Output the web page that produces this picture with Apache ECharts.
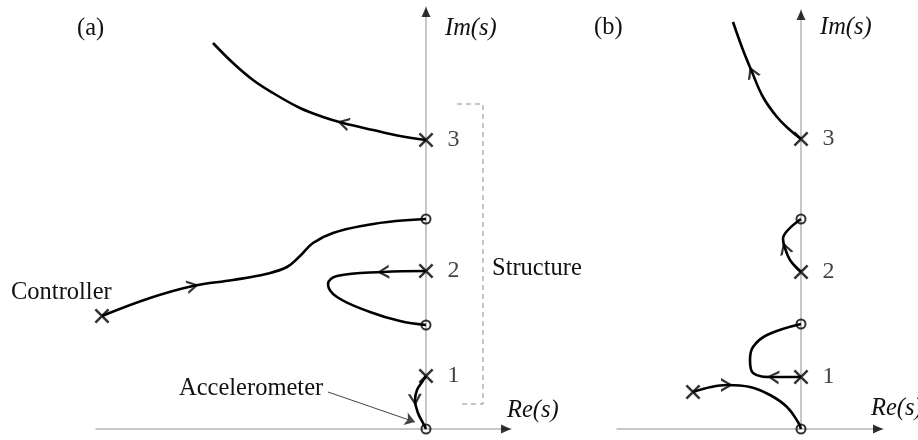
<!DOCTYPE html>
<html><head><meta charset="utf-8">
<script src="https://cdn.jsdelivr.net/npm/echarts@6/dist/echarts.min.js"></script>
<style>html,body{margin:0;padding:0;background:#fff}#c{width:918px;height:440px}</style>
</head><body><div id="c"></div>
<script>
// ---------- Panel (a) data (Re, Im) ----------
const aPoles = [[0,53],[0,158],[0,289]];
const aPoleLabels = ['1','2','3'];
const aController = [[-324,113]];
const aZeros = [[0,0],[0,104],[0,210]];
const aLocusPole3 = [[0,289],[-26,293],[-53,299],[-83,306],[-103,312],[-126,321],[-153,336],[-173,349],[-193,366],[-213,386]];
const aLocusController = [[-324,113],[-276,131],[-233,143],[-193,149],[-160,155],[-139,162],[-126,173],[-113,186],[-93,196],[-59,204],[-30,208],[0,210]];
const aLocusPole2 = [[0,158],[-43,157],[-89,153],[-98,145],[-89,132],[-56,117],[-26,108],[0,104]];
const aLocusPole1 = [[0,53],[-4,47],[-9,39],[-11,29],[-8,16],[-3,6],[0,0]];
const aArrowAt = [3, 2, 1, 3];
const aBracket = [[31,325],[57,325],[57,25],[32,25]];
const aAccelArrow = [[-98,37],[-11,7]];

// ---------- Panel (b) data ----------
const bPoles = [[0,52],[0,157],[0,290]];
const bPoleLabels = ['1','2','3'];
const bController = [[-108,37]];
const bZeros = [[0,0],[0,105],[0,210]];
const bLocusPole3 = [[0,290],[-11,299],[-24,312],[-38,332],[-49,357],[-58,379],[-68,407]];
const bLocusPole2 = [[0,157],[-11,169],[-16,181],[-18,190],[-13,199],[0,210]];
const bLocusPole1 = [[0,52],[-28,52],[-48,56],[-51,69],[-48,82],[-34,94],[0,105]];
const bLocusController = [[-108,37],[-90,42],[-74,44],[-51,42],[-31,34],[-14,22],[-3,7],[0,0]];
const bArrowAt = [4, 2, 1, 2];

// axis extents
const aX = [-330, 85], aY = [0, 422];
const bX = [-184, 82], bY = [0, 419];

const FONT = '"Liberation Serif","Times New Roman",serif';
const X_PATH = 'path://M0,1.2 L1.2,0 L10,8.8 L8.8,10 Z M8.8,0 L10,1.2 L1.2,10 L0,8.8 Z';
const CHEVRON = 'path://M0,0 L10,5 L0,10 L0,8.1 L6.6,5 L0,1.9 Z';

function axes(gi, xr, yr){
  const common = {
    type:'value', gridIndex:gi,
    axisLine:{show:true,onZero:true,lineStyle:{color:'#b5b5b5',width:1.5}},
    axisTick:{show:false}, axisLabel:{show:false}, splitLine:{show:false}
  };
  return [
    Object.assign({}, common, {min:xr[0], max:xr[1]}),
    Object.assign({}, common, {min:yr[0], max:yr[1]})
  ];
}
const [ax0, ay0] = axes(0, aX, aY);
const [ax1, ay1] = axes(1, bX, bY);

function locus(gi, pts){
  return {type:'line', xAxisIndex:gi, yAxisIndex:gi, data:pts, smooth:0.4,
    showSymbol:false, clip:false, silent:true,
    lineStyle:{color:'#000', width:2.6}, z:3};
}
function arrows(gi, curves, idx){
  const data = curves.map((c,k)=>{
    const i = idx[k];
    const p0 = c[i-1], p1 = c[i+1];
    const ang = Math.atan2(p1[1]-p0[1], p1[0]-p0[0]) * 180 / Math.PI;
    return {value:c[i], symbolRotate: ang};
  });
  return {type:'scatter', xAxisIndex:gi, yAxisIndex:gi, data, symbol:CHEVRON,
    symbolSize:[12,14], clip:false, silent:true, itemStyle:{color:'#000'}, z:4};
}
function poles(gi, pts, labels){
  return {type:'scatter', xAxisIndex:gi, yAxisIndex:gi,
    data: pts.map((p,i)=>({value:p, label:{show: !!labels, formatter: labels ? labels[i] : ''}})),
    symbol:X_PATH, symbolSize:15, clip:false, silent:true, itemStyle:{color:'#000'}, z:5,
    label:{position:'right', distance:14, fontFamily:FONT, fontSize:24, color:'#111'}};
}
function zeros(gi, pts){
  return {type:'scatter', xAxisIndex:gi, yAxisIndex:gi, data:pts, symbol:'circle',
    symbolSize:9, clip:false, silent:true,
    itemStyle:{color:'rgba(255,255,255,0)', borderColor:'#000', borderWidth:2}, z:5};
}
function axisArrows(gi, xr, yr){
  return {type:'scatter', xAxisIndex:gi, yAxisIndex:gi, clip:false, silent:true,
    symbol:'triangle', itemStyle:{color:'#000'}, z:2,
    data:[
      {value:[xr[1]-5, 0], symbolSize:[9,10], symbolRotate:-90},
      {value:[0, yr[1]-5], symbolSize:[9,10], symbolRotate:0}
    ]};
}
function txt(x, y, s, italic){
  return {type:'text', x, y, silent:true, style:{text:s, fill:'#111',
    font:(italic?'italic ':'')+'24.5px '+FONT, textAlign:'left', textVerticalAlign:'middle', textBaseline:'middle'}};
}

const chart = echarts.init(document.getElementById('c'), null, {renderer:'canvas'});
chart.setOption({
  animation:false,
  backgroundColor:'#fff',
  grid:[
    {left:96, top:7, width:415, height:422},
    {left:617, top:10, width:266, height:419}
  ],
  xAxis:[ax0, ax1],
  yAxis:[ay0, ay1],
  graphic:[
    txt(77, 29, '(a)'),
    txt(445, 29, 'Im(s)', true),
    txt(507, 411, 'Re(s)', true),
    txt(11, 293, 'Controller'),
    txt(179, 389, 'Accelerometer'),
    txt(492, 269, 'Structure'),
    txt(594, 28, '(b)'),
    txt(820, 28, 'Im(s)', true),
    txt(871, 409, 'Re(s)', true)
  ],
  series:[
    axisArrows(0, aX, aY),
    axisArrows(1, bX, bY),
    {type:'line', xAxisIndex:0, yAxisIndex:0, data:aBracket, showSymbol:false, clip:false, silent:true,
      lineStyle:{color:'#8a8a8a', width:1, type:[5,4]}, z:2},
    {type:'lines', coordinateSystem:'cartesian2d', xAxisIndex:0, yAxisIndex:0, silent:true,
      data:[{coords:aAccelArrow}], symbol:['none','arrow'], symbolSize:10,
      lineStyle:{color:'#444', width:1, opacity:1}, z:2},
    locus(0, aLocusPole3), locus(0, aLocusController), locus(0, aLocusPole2), locus(0, aLocusPole1),
    arrows(0, [aLocusPole3, aLocusController, aLocusPole2, aLocusPole1], aArrowAt),
    poles(0, aPoles, aPoleLabels), poles(0, aController, null), zeros(0, aZeros),
    locus(1, bLocusPole3), locus(1, bLocusPole2), locus(1, bLocusPole1), locus(1, bLocusController),
    arrows(1, [bLocusPole3, bLocusPole2, bLocusPole1, bLocusController], bArrowAt),
    poles(1, bPoles, bPoleLabels), poles(1, bController, null), zeros(1, bZeros)
  ]
});
</script></body></html>
